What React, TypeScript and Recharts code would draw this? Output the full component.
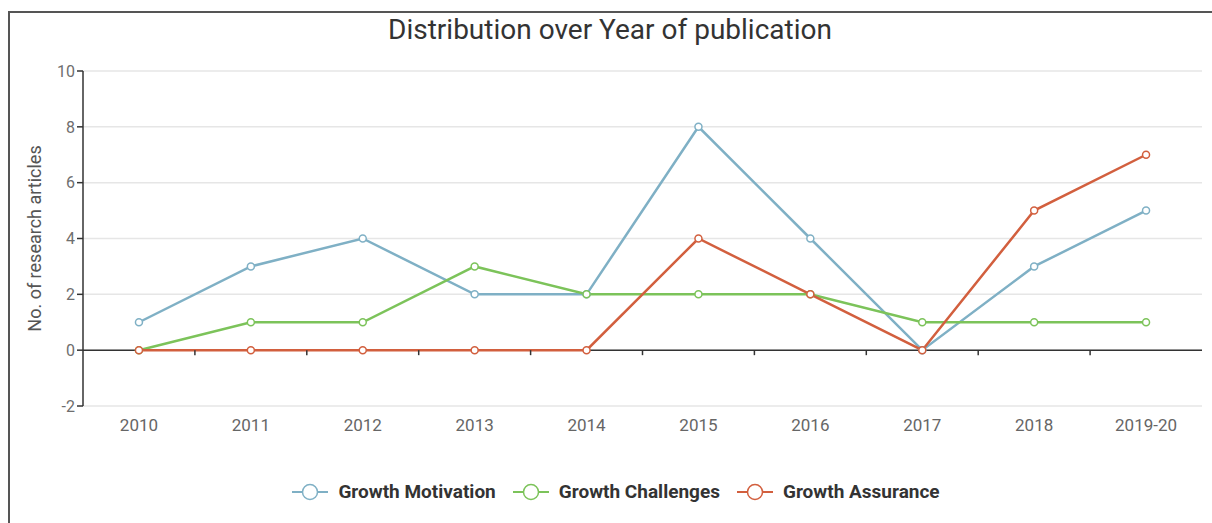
import React from 'react';
import { LineChart, Line, XAxis, YAxis, CartesianGrid, ReferenceLine } from 'recharts';

const years = ['2010', '2011', '2012', '2013', '2014', '2015', '2016', '2017', '2018', '2019-20'];
const motivation = [1, 3, 4, 2, 2, 8, 4, 0, 3, 5];
const challenges = [0, 1, 1, 3, 2, 2, 2, 1, 1, 1];
const assurance = [0, 0, 0, 0, 0, 4, 2, 0, 5, 7];
const yTicks = [-2, 0, 2, 4, 6, 8, 10];

const series = [
  { key: 'motivation', name: 'Growth Motivation', color: '#7fb0c5' },
  { key: 'challenges', name: 'Growth Challenges', color: '#7cc35a' },
  { key: 'assurance', name: 'Growth Assurance', color: '#d25f3e' },
];

const data = years.map((year, i) => ({
  year,
  motivation: motivation[i],
  challenges: challenges[i],
  assurance: assurance[i],
}));

const W = 1212;
const H = 523;
const margin = { top: 71, right: 10, bottom: 77, left: 23 };
const yAxisWidth = 60;
const xAxisHeight = 40;
const plotTop = margin.top;
const plotBottom = H - margin.bottom - xAxisHeight;
const plotLeft = margin.left + yAxisWidth;
const plotRight = W - margin.right;
const bandWidth = (plotRight - plotLeft) / years.length;
// y position of the zero line, where the category axis sits
const zeroY = plotTop + ((10 - 0) / 12) * (plotBottom - plotTop);

const font = 'Roboto, "Noto Sans", sans-serif';

const XTick = (props: any) => {
  const { x, y, payload, index } = props;
  const bx = x - bandWidth / 2;
  return (
    <g>
      {index > 0 && <line x1={bx} x2={bx} y1={zeroY} y2={zeroY + 5} stroke="#333" strokeWidth={1.5} />}
      <text x={x} y={y + 25} textAnchor="middle" fill="#666" fontSize={17} fontFamily={font}>
        {payload.value}
      </text>
    </g>
  );
};

const LegendIcon = ({ color }: { color: string }) => (
  <svg width={36} height={18} style={{ marginRight: 10 }}>
    <line x1={0} x2={36} y1={9} y2={9} stroke={color} strokeWidth={2} />
    <circle cx={18} cy={9} r={7.5} fill="#fff" stroke={color} strokeWidth={1.5} />
  </svg>
);

const App: React.FC = () => {
  return (
    <div style={{ position: 'absolute', left: 0, top: 0, width: W, height: H, background: '#fff', fontFamily: font }}>
      <div
        style={{
          position: 'absolute',
          left: 8,
          top: 11,
          width: W - 8,
          height: H - 13,
          borderTop: '2px solid #555',
          borderLeft: '2px solid #555',
          borderBottom: '1px solid #ddd',
        }}
      />
      <div
        style={{
          position: 'absolute',
          left: 4,
          width: W,
          top: 13,
          textAlign: 'center',
          fontSize: 28,
          color: '#333',
        }}
      >
        Distribution over Year of publication
      </div>

      <div style={{ position: 'absolute', left: 0, top: 0 }}>
        <LineChart width={W} height={H} data={data} margin={margin}>
          <CartesianGrid vertical={false} stroke="#e6e6e6" strokeWidth={1.5} />
          <XAxis
            dataKey="year"
            height={xAxisHeight}
            axisLine={false}
            tickLine={false}
            tickSize={0}
            tickMargin={0}
            interval={0}
            padding={{ left: bandWidth / 2, right: bandWidth / 2 }}
            tick={<XTick />}
          />
          <YAxis
            width={yAxisWidth}
            domain={[-2, 10]}
            ticks={yTicks}
            interval={0}
            axisLine={{ stroke: '#333', strokeWidth: 1.5 }}
            tickLine={{ stroke: '#333', strokeWidth: 1.5 }}
            tickSize={6}
            tick={{ fill: '#6e6e6e', fontSize: 16, fontFamily: font }}
            label={{
              value: 'No. of research articles',
              angle: -90,
              position: 'insideLeft',
              offset: 12,
              style: { textAnchor: 'middle', fill: '#555', fontSize: 18, fontFamily: font },
            }}
          />
          <ReferenceLine y={0} stroke="#333" strokeWidth={1.5} />
          {series.map((s) => (
            <Line
              key={s.key}
              type="linear"
              dataKey={s.key}
              name={s.name}
              stroke={s.color}
              strokeWidth={2.5}
              dot={{ r: 3.5, fill: '#fff', stroke: s.color, strokeWidth: 1.5 }}
              activeDot={false}
              isAnimationActive={false}
            />
          ))}
        </LineChart>
      </div>

      <div
        style={{
          position: 'absolute',
          left: 20,
          width: W - 20,
          top: 480,
          display: 'flex',
          justifyContent: 'center',
          alignItems: 'center',
          gap: 17,
        }}
      >
        {series.map((s) => (
          <div key={s.key} style={{ display: 'flex', alignItems: 'center' }}>
            <LegendIcon color={s.color} />
            <span style={{ fontSize: 19, fontWeight: 700, color: '#333' }}>{s.name}</span>
          </div>
        ))}
      </div>
    </div>
  );
};

export default App;
